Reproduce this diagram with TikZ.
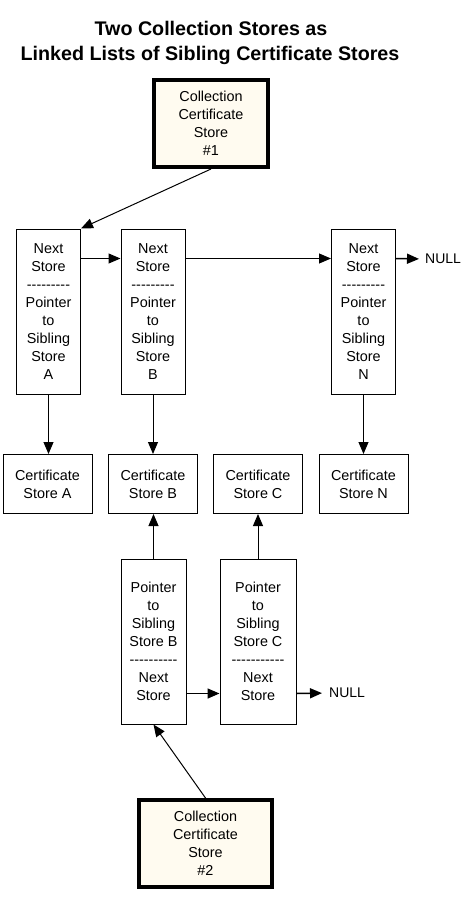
\documentclass[tikz,border=0pt]{standalone}
\usepackage{fontspec}
\setmainfont{Liberation Sans}
\usetikzlibrary{arrows.meta}
\usetikzlibrary{calc}

\definecolor{CollCream}{RGB}{255,251,240}
% a row of plain hyphens (no en/em dash ligatures)
\newcommand{\dashrow}[1]{\foreach \i in {1,...,#1}{\mbox{-}}}

\begin{document}
\begin{tikzpicture}[x=1pt,y=-1pt,>={Triangle[length=12pt,width=10pt]},
  box/.style={draw,line width=1pt,align=center,inner sep=0pt,
    font=\fontsize{14.4}{18}\selectfont},
  coll/.style={box,line width=4pt,fill=CollCream,minimum height=87pt},
  sibling/.style={box,minimum width=64pt,minimum height=165pt},
  certbox/.style={box,minimum width=89pt,minimum height=59pt},
  link/.style={->,line width=1pt},
  nullnode/.style={anchor=west,inner sep=1pt,font=\fontsize{14}{16}\selectfont}]

\useasboundingbox (0,0) rectangle (476,898);

% title
\node (title1) [anchor=base,font=\bfseries\fontsize{19.7}{24}\selectfont] at (211,35) {Two Collection Stores as};
\node (title2) [anchor=base,font=\bfseries\fontsize{19.7}{24}\selectfont] at (210,60) {Linked Lists of Sibling Certificate Stores};

% first collection store and its siblings
\node (coll1) [coll,minimum width=114pt] at (211,123.5) {Collection\\Certificate\\Store\\\#1};

\node (sibA) [sibling] at (48.5,311.5) {Next\\Store\\\dashrow{9}\\Pointer\\to\\Sibling\\Store\\A};
\node (sibB) [sibling] at (153,311.5) {Next\\Store\\\dashrow{9}\\Pointer\\to\\Sibling\\Store\\B};
\node (sibN) [sibling] at (363.5,311.5) {Next\\Store\\\dashrow{9}\\Pointer\\to\\Sibling\\Store\\N};
\node (null1) [nullnode] at (424,259) {NULL};

% certificate stores
\node (certA) [certbox] at (47.5,484) {Certificate\\Store A};
\node (certB) [certbox] at (153,484) {Certificate\\Store B};
\node (certC) [certbox] at (258,484) {Certificate\\Store C};
\node (certN) [certbox] at (363.5,484) {Certificate\\Store N};

% second collection store and its siblings
\node (ptrB) [box,minimum width=65pt,minimum height=165pt] at (153.5,641.5) {Pointer\\to\\Sibling\\Store B\\\dashrow{10}\\Next\\Store};
\node (ptrC) [box,minimum width=76pt,minimum height=165pt] at (258,641.5) {Pointer\\to\\Sibling\\Store C\\\dashrow{11}\\Next\\Store};
\node (null2) [nullnode] at (328,693) {NULL};

\node (coll2) [coll,minimum width=133pt] at (205.5,843.5) {Collection\\Certificate\\Store\\\#2};

% links of the first list
\draw[link] (coll1.south) -- (sibA.north east);
\draw[link] ($(sibA.north east)+(0,30)$) -- ($(sibB.north west)+(0,30)$);
\draw[link] ($(sibB.north east)+(0,30)$) -- ($(sibN.north west)+(0,30)$);
\draw[link,line width=1.5pt,shorten >=5pt] ($(sibN.north east)+(0,30)$) -- (null1.west);
\draw[link] (sibA.south) -- (certA.north -| sibA.south);
\draw[link] (sibB.south) -- (certB.north -| sibB.south);
\draw[link] (sibN.south) -- (certN.north);

% links of the second list
\draw[link] (coll2.north) -- (ptrB.south);
\draw[link] (ptrB.north) -- (certB.south -| ptrB.north);
\draw[link] (ptrC.north) -- (certC.south);
\draw[link,line width=1.5pt] ($(ptrB.south east)+(0,-31)$) -- ($(ptrC.south west)+(0,-31)$);
\draw[link,line width=1.5pt,shorten >=6pt] ($(ptrC.south east)+(0,-31)$) -- (null2.west);

\end{tikzpicture}
\end{document}
